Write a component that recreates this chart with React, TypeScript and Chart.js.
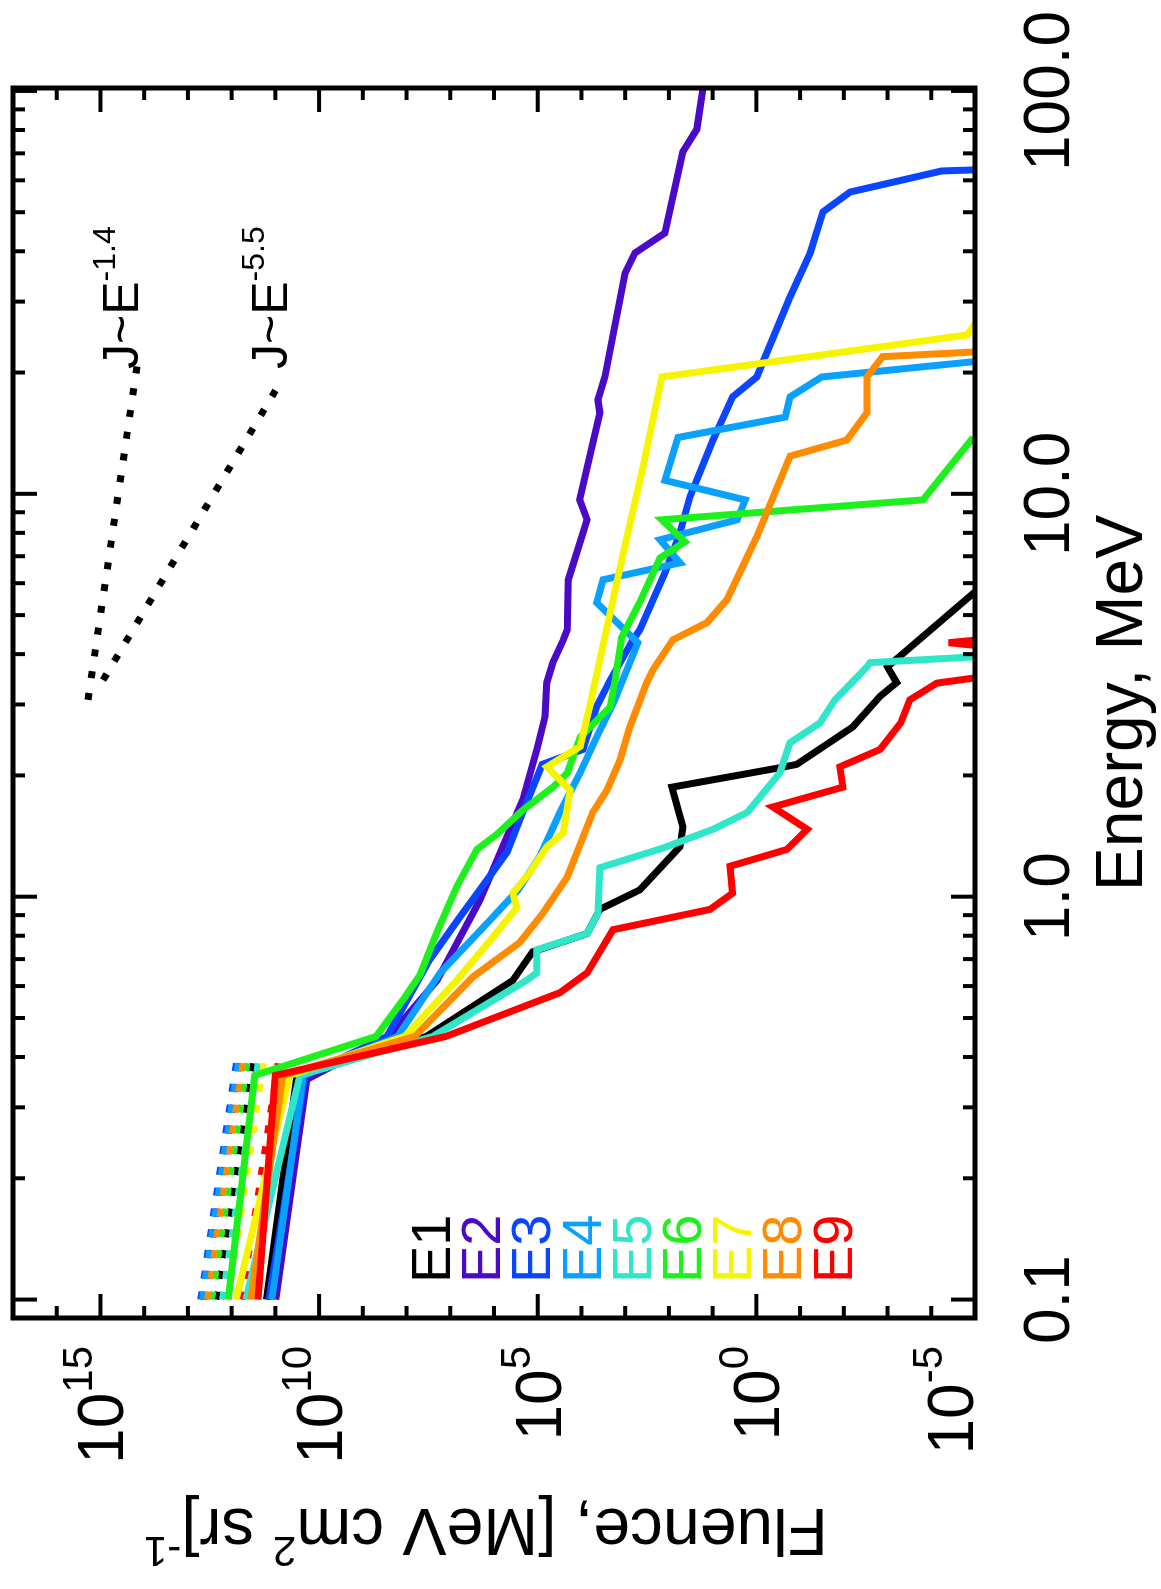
import React, { useEffect, useRef } from "react";
import { Chart, registerables } from "chart.js";

Chart.register(...registerables);

// ---------- axis definitions ----------
const energyTickValues = [0.1, 1, 10, 100];
const energyTickLabels = ["0.1", "1.0", "10.0", "100.0"];
const fluenceTickExponents = [15, 10, 5, 0, -5];
const energyMin = 0.09;
const energyMax = 101.7;
const fluenceMin = 1e-5;
const fluenceMax = 1e17;

// ---------- series ----------
const seriesNames = ["E1", "E2", "E3", "E4", "E5", "E6", "E7", "E8", "E9"];
const seriesColors = ["#000000", "#4a0ac8", "#0a46ff", "#0aa0ff", "#30e6c8", "#1ef01e", "#f5f500", "#ff8c00", "#ff0000"];

const e1Energy = [0.1, 0.36, 0.45, 0.62, 0.73, 0.81, 0.93, 1.04, 1.33, 1.49, 1.87, 2.09, 2.13, 2.64, 3.14, 3.4, 3.72, 5.71];
const e1Fluence = [1.6e11, 3.2e10, 3.5e7, 3.7e5, 1.3e5, 7.4e3, 3.8e3, 460, 56, 48, 85, 0.29, 0.12, 6.2e-3, 1.5e-3, 6.2e-4, 1.0e-3, 1e-5];

const e2Energy = [0.1, 0.352, 0.45, 0.62, 0.98, 1.33, 1.74, 2.32, 2.8, 3.4, 3.81, 4.34, 4.6, 6.12, 8.62, 9.66, 15.9, 17.1, 19.5, 35.3, 39.6, 44.4, 70.6, 80.3, 101.7];
const e2Fluence = [9.8e10, 1.9e10, 2.5e8, 2.0e7, 2.1e6, 6.3e5, 2.2e5, 1.05e5, 6.8e4, 6.2e4, 4.5e4, 2.6e4, 2.1e4, 2.0e4, 7.4e3, 1.1e4, 3.8e3, 4.2e3, 2.9e3, 1.0e3, 600, 123, 48, 23, 16.6];

const e3Energy = [0.1, 0.36, 0.45, 0.7, 0.89, 1.04, 1.29, 1.62, 2.13, 2.32, 2.96, 3.45, 4.34, 4.6, 6.37, 8.0, 9.84, 13.6, 17.4, 19.5, 30.8, 39.6, 50.1, 56.1, 63.3, 63.7];
const e3Fluence = [1.4e11, 2.1e10, 2.8e8, 2.9e7, 6.0e6, 2.1e6, 5.0e5, 2.2e5, 7.9e4, 9.3e3, 4.5e3, 2.2e3, 660, 460, 123, 56, 33, 9.8, 3.5, 0.98, 0.17, 0.059, 0.03, 7.2e-3, 5.8e-5, 1e-5];

const e4Energy = [0.1, 0.36, 0.45, 0.647, 0.877, 1.04, 1.26, 1.62, 2.03, 2.49, 3.05, 4.27, 5.37, 6.12, 6.74, 7.69, 8.62, 9.66, 10.8, 13.8, 15.5, 17.4, 19.5, 21.3];
const e4Fluence = [1.2e11, 2.3e10, 1.6e8, 1.7e7, 1.2e6, 2.8e5, 8.9e4, 3.1e4, 1.07e4, 4.5e3, 1.8e3, 510, 4.5e3, 3.2e3, 56, 160, 2.75, 1.8, 123, 62, 0.22, 0.17, 0.032, 1e-5];

const e5Energy = [0.1, 0.36, 0.45, 0.62, 0.647, 0.738, 0.81, 0.91, 1.18, 1.32, 1.47, 1.62, 2.03, 2.41, 2.7, 3.08, 3.72, 3.81, 3.94];
const e5Fluence = [4.7e11, 2.75e10, 2.5e7, 1.8e5, 1.05e5, 1.05e5, 7.4e3, 4.2e3, 3.8e3, 138, 9.8, 1.6, 0.29, 0.17, 0.035, 0.016, 2.95e-3, 2.5e-3, 1e-5];

const e6Energy = [0.1, 0.36, 0.45, 0.555, 0.64, 0.828, 1.06, 1.31, 1.43, 1.64, 1.87, 2.03, 2.49, 2.96, 3.45, 4.4, 5.39, 6.93, 7.6, 8.62, 9.66, 13.8];
const e6Fluence = [1.2e12, 2.95e11, 5.0e8, 1.2e8, 4.9e7, 1.9e7, 7.1e6, 2.45e6, 8.5e5, 2.2e5, 4.5e4, 2.1e4, 1.07e4, 2.2e3, 1.7e3, 1.2e3, 460, 160, 43, 145, 1.55e-4, 1.1e-5];

const e7Energy = [0.1, 0.36, 0.45, 0.62, 0.78, 0.94, 1.02, 1.15, 1.33, 1.44, 1.84, 2.1, 2.36, 2.96, 4.03, 7.14, 11.7, 19.5, 24.8, 27.3];
const e7Fluence = [7.9e11, 4.7e10, 1.1e8, 7.1e6, 1.2e6, 3.0e5, 3.7e5, 1.5e5, 6.2e4, 2.6e4, 1.8e4, 6.2e4, 1.07e4, 6.5e3, 3.5e3, 1.1e3, 390, 145, 1.5e-5, 8e-6];

const e8Energy = [0.1, 0.36, 0.45, 0.633, 0.769, 0.91, 1.12, 1.62, 1.84, 2.19, 2.64, 3.4, 3.66, 4.34, 4.79, 5.46, 7.82, 12.4, 13.6, 15.9, 19.5, 21.9, 22.5];
const e8Fluence = [3.6e11, 6.8e10, 6.5e7, 3.0e6, 2.6e5, 7.6e4, 2.1e4, 5.5e3, 2.6e3, 1.3e3, 780, 320, 230, 81, 13.5, 4.7, 0.98, 0.17, 8.5e-3, 2.95e-3, 2.95e-3, 1.3e-3, 1e-5];

const e9Energy = [0.1, 0.36, 0.45, 0.578, 0.647, 0.828, 0.93, 1.02, 1.19, 1.31, 1.47, 1.67, 1.87, 2.1, 2.32, 2.7, 3.08, 3.39, 3.49, 4.1, 4.27, 4.44];
const e9Fluence = [2.5e11, 1.0e11, 1.26e7, 3.1e4, 7.4e3, 1.9e3, 11.5, 3.5, 4.0, 0.2, 0.069, 0.42, 0.0105, 0.0123, 1.48e-3, 5.0e-4, 3.1e-4, 7.4e-5, 1.05e-5, 1e-6, 4.0e-5, 1e-6];

// low-energy dotted extrapolations
const extEnergy = [0.1, 0.39];
const e1Ext = [2.2e12, 3.2e11];
const e2Ext = [4.3e12, 6.5e11];
const e3Ext = [5.2e12, 7.9e11];
const e4Ext = [4.8e12, 7.1e11];
const e5Ext = [1.66e12, 2.5e11];
const e6Ext = [2.8e12, 4.3e11];
const e7Ext = [1.2e12, 1.8e11];
const e8Ext = [3.6e12, 5.5e11];
const e9Ext = [5.8e11, 8.7e10];

// reference power laws
const ref14Energy = [3.08, 20.7];
const ref14Fluence = [1.93e15, 1.46e14];
const ref55Energy = [3.45, 19.2];
const ref55Fluence = [8.7e14, 7.1e10];

const allEnergy = [e1Energy, e2Energy, e3Energy, e4Energy, e5Energy, e6Energy, e7Energy, e8Energy, e9Energy];
const allFluence = [e1Fluence, e2Fluence, e3Fluence, e4Fluence, e5Fluence, e6Fluence, e7Fluence, e8Fluence, e9Fluence];
const allExt = [e1Ext, e2Ext, e3Ext, e4Ext, e5Ext, e6Ext, e7Ext, e8Ext, e9Ext];

const FONT = '"Liberation Sans", Arial, Helvetica, sans-serif';
const W = 1589;
const H = 1161;

function pts(xs: number[], ys: number[]) {
  return xs.map((x, i) => ({ x, y: ys[i] }));
}

function drawParts(ctx: CanvasRenderingContext2D, parts: { t: string; size: number; dy: number }[], x: number, y: number, align: "left" | "center" | "right") {
  ctx.textAlign = "left";
  ctx.textBaseline = "alphabetic";
  let total = 0;
  const widths = parts.map((p) => {
    ctx.font = `${p.size}px ${FONT}`;
    const w = ctx.measureText(p.t).width;
    total += w;
    return w;
  });
  let cx = align === "left" ? x : align === "center" ? x - total / 2 : x - total;
  parts.forEach((p, i) => {
    ctx.font = `${p.size}px ${FONT}`;
    ctx.fillText(p.t, cx, y + p.dy);
    cx += widths[i];
  });
}

const idlAxes = {
  id: "idlAxes",
  afterDatasetsDraw(chart: any) {
    const { ctx, chartArea: a } = chart;
    const xs = chart.scales.x;
    const ys = chart.scales.y;
    ctx.save();
    ctx.strokeStyle = "#000";
    ctx.fillStyle = "#000";
    ctx.lineCap = "butt";
    ctx.lineWidth = 4;
    const seg = (x1: number, y1: number, x2: number, y2: number) => {
      ctx.beginPath();
      ctx.moveTo(x1, y1);
      ctx.lineTo(x2, y2);
      ctx.stroke();
    };
    // energy ticks
    for (let d = -2; d <= 2; d++) {
      for (let m = 1; m <= 9; m++) {
        const v = m * Math.pow(10, d);
        if (v <= energyMin || v >= energyMax) continue;
        const px = xs.getPixelForValue(v);
        const len = m === 1 ? 24 : 12;
        seg(px, a.bottom, px, a.bottom - len);
        seg(px, a.top, px, a.top + len);
      }
    }
    // fluence ticks
    for (let e = -4; e <= 16; e++) {
      const py = ys.getPixelForValue(Math.pow(10, e));
      const len = e % 5 === 0 ? 24 : 12;
      seg(a.left, py, a.left + len, py);
      seg(a.right, py, a.right - len, py);
    }
    // frame
    ctx.lineWidth = 5;
    ctx.strokeRect(a.left, a.top, a.right - a.left, a.bottom - a.top);

    // energy tick labels
    ctx.font = `64px ${FONT}`;
    ctx.textAlign = "center";
    ctx.textBaseline = "alphabetic";
    energyTickValues.forEach((v, i) => {
      ctx.fillText(energyTickLabels[i], xs.getPixelForValue(v), a.bottom + 94);
    });

    // fluence tick labels (10 with superscript exponent)
    const cap = 46;
    fluenceTickExponents.forEach((ex) => {
      let py = ys.getPixelForValue(Math.pow(10, ex));
      py = Math.max(a.top + cap / 2, Math.min(a.bottom - cap / 2 - 2, py));
      drawParts(ctx, [
        { t: "10", size: 64, dy: cap / 2 },
        { t: String(ex), size: 42, dy: -8 },
      ], a.left - 28, py, "right");
    });

    // x title
    drawParts(ctx, [{ t: "Energy, MeV", size: 66, dy: 0 }], (a.left + a.right) / 2, 1142, "center");

    // y title (rotated)
    ctx.save();
    ctx.translate(80, (a.top + a.bottom) / 2 - 8);
    ctx.rotate(-Math.PI / 2);
    drawParts(ctx, [
      { t: "Fluence, [MeV cm", size: 66, dy: 0 },
      { t: "2", size: 42, dy: -28 },
      { t: " sr]", size: 66, dy: 0 },
      { t: "-1", size: 42, dy: -28 },
    ], 0, 0, "center");
    ctx.restore();

    // legend
    seriesNames.forEach((n, i) => {
      ctx.fillStyle = seriesColors[i];
      drawParts(ctx, [{ t: n, size: 56, dy: 0 }], 306, 450 + 50.2 * i, "left");
    });

    // power-law annotations
    ctx.fillStyle = "#000";
    drawParts(ctx, [
      { t: "J~E", size: 50, dy: 0 },
      { t: "-1.4", size: 32, dy: -23 },
    ], 1220, 138, "left");
    drawParts(ctx, [
      { t: "J~E", size: 50, dy: 0 },
      { t: "-5.5", size: 32, dy: -23 },
    ], 1220, 287, "left");
    ctx.restore();
  },
};

export default function App() {
  const ref = useRef<HTMLCanvasElement | null>(null);
  useEffect(() => {
    if (!ref.current) return;
    const solid = allEnergy.map((xs, i) => ({
      label: seriesNames[i],
      data: pts(xs, allFluence[i]),
      borderColor: seriesColors[i],
      borderWidth: 7,
      pointRadius: 0,
      fill: false,
      clip: 0,
      borderJoinStyle: "miter" as const,
      borderCapStyle: "butt" as const,
      order: 8 - i,
    }));
    const dotted = allExt.map((ys, i) => ({
      label: seriesNames[i] + " ext",
      data: pts(extEnergy, ys),
      borderColor: seriesColors[i],
      borderWidth: 6,
      borderDash: [8, 13],
      pointRadius: 0,
      fill: false,
      clip: 0,
      borderCapStyle: "butt" as const,
      order: 20 - i,
    }));
    const refs = [
      { data: pts(ref14Energy, ref14Fluence) },
      { data: pts(ref55Energy, ref55Fluence) },
    ].map((d, i) => ({
      label: i === 0 ? "J~E-1.4" : "J~E-5.5",
      data: d.data,
      borderColor: "#000",
      borderWidth: 7,
      borderDash: [7, 15],
      pointRadius: 0,
      fill: false,
      clip: 0,
      borderCapStyle: "butt" as const,
      order: 30 + i,
    }));
    const chart = new Chart(ref.current, {
      type: "line",
      data: { datasets: [...solid, ...dotted, ...refs] as any },
      options: {
        animation: false,
        responsive: false,
        devicePixelRatio: 1,
        layout: { padding: { top: 13, right: 88, left: 0, bottom: 0 } },
        plugins: { legend: { display: false }, tooltip: { enabled: false } },
        elements: { line: { tension: 0 }, point: { radius: 0 } },
        scales: {
          x: {
            type: "logarithmic",
            min: energyMin,
            max: energyMax,
            grid: { display: false },
            border: { display: false },
            ticks: { display: false },
            afterFit: (s: any) => {
              s.height = 186;
            },
          },
          y: {
            type: "logarithmic",
            min: fluenceMin,
            max: fluenceMax,
            grid: { display: false },
            border: { display: false },
            ticks: { display: false },
            afterFit: (s: any) => {
              s.width = 271;
            },
          },
        },
      } as any,
      plugins: [idlAxes],
    });
    return () => chart.destroy();
  }, []);

  return (
    <div style={{ position: "fixed", left: 0, top: 0, width: 1161, height: 1589, background: "#fff", overflow: "hidden" }}>
      <canvas
        ref={ref}
        width={W}
        height={H}
        style={{
          position: "absolute",
          left: 0,
          top: 0,
          width: `${W}px`,
          height: `${H}px`,
          transformOrigin: "0 0",
          transform: `translate(0px, ${W}px) rotate(-90deg)`,
        }}
      />
    </div>
  );
}
